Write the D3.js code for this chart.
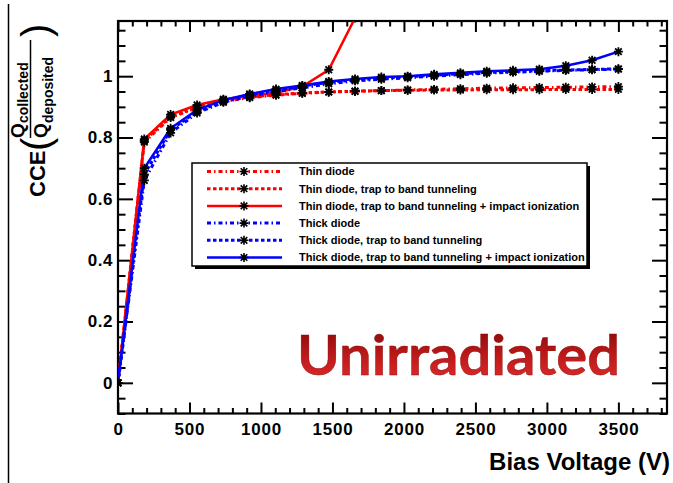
<!DOCTYPE html>
<html>
<head>
<meta charset="utf-8">
<script src="https://cdn.jsdelivr.net/npm/d3@7"></script>
<style>
  html, body { margin: 0; padding: 0; background: #fff; }
  svg { display: block; }
</style>
</head>
<body>
<svg id="chart" width="673" height="483"></svg>
<script>
// ---------------- data ----------------
const voltages = [0, 184, 368, 553, 737, 921, 1105, 1289, 1474, 1658, 1842, 2026, 2211, 2395, 2579, 2763, 2947, 3132, 3316, 3500];

const thinDiode      = [0, 0.785, 0.865, 0.897, 0.918, 0.930, 0.938, 0.944, 0.948, 0.951, 0.953, 0.955, 0.957, 0.959, 0.961, 0.962, 0.963, 0.964, 0.965, 0.966];
const thinTBT        = [0, 0.790, 0.868, 0.899, 0.920, 0.932, 0.940, 0.945, 0.949, 0.951, 0.953, 0.954, 0.955, 0.955, 0.956, 0.956, 0.956, 0.957, 0.957, 0.957];
const thinTBTII      = [0, 0.795, 0.875, 0.906, 0.925, 0.936, 0.946, 0.966, 1.021, 1.190];
const thickDiode     = [0, 0.660, 0.815, 0.880, 0.915, 0.935, 0.950, 0.962, 0.975, 0.985, 0.990, 0.995, 1.000, 1.005, 1.010, 1.013, 1.016, 1.019, 1.021, 1.023];
const thickTBT       = [0, 0.680, 0.825, 0.885, 0.918, 0.940, 0.955, 0.968, 0.980, 0.988, 0.993, 0.998, 1.003, 1.008, 1.012, 1.015, 1.018, 1.020, 1.022, 1.024];
const thickTBTII     = [0, 0.700, 0.830, 0.890, 0.922, 0.942, 0.958, 0.970, 0.983, 0.991, 0.997, 1.000, 1.006, 1.011, 1.016, 1.019, 1.023, 1.034, 1.052, 1.080];

const seriesNames = [
  "Thin diode",
  "Thin diode, trap to band tunneling",
  "Thin diode, trap to band tunneling + impact ionization",
  "Thick diode",
  "Thick diode, trap to band tunneling",
  "Thick diode, trap to band tunneling + impact ionization"
];
const seriesValues = [thinDiode, thinTBT, thinTBTII, thickDiode, thickTBT, thickTBTII];
const seriesColors = ["#ff0000", "#ff0000", "#ff0000", "#0000ff", "#0000ff", "#0000ff"];
const seriesDash   = ["4,3,1.5,3", "3.5,2.5", null, "4,3,1.5,3", "3.5,2.5", null];

const xMajorTicks = [0, 500, 1000, 1500, 2000, 2500, 3000, 3500];
const xTickLabels = ["0", "500", "1000", "1500", "2000", "2500", "3000", "3500"];
const yMajorTicks = [0, 0.2, 0.4, 0.6, 0.8, 1];
const yTickLabels = ["0", "0.2", "0.4", "0.6", "0.8", "1"];

const xTitle = "Bias Voltage (V)";
const annotation = "Unirradiated";

// ---------------- layout ----------------
const svg = d3.select("#chart");
const L = 118, R = 667, T = 21, B = 413.5;
const x = d3.scaleLinear().domain([0, 3840]).range([L, R]);
const y = d3.scaleLinear().domain([-0.1, 1.18]).range([B, T]);

const xMinor = d3.range(0, 3840, 100).filter(v => v % 500 !== 0);
const yMinor = d3.range(-0.1, 1.18, 0.05).map(v => +v.toFixed(2)).filter(v => Math.abs(v * 5 - Math.round(v * 5)) > 1e-6 || v < 0);

// left outer line
svg.append("line").attr("x1", 8.5).attr("x2", 8.5).attr("y1", 4).attr("y2", 483)
  .attr("stroke", "#000").attr("stroke-width", 1.5);

const defs = svg.append("defs");
defs.append("clipPath").attr("id", "plotclip").append("rect")
  .attr("x", L).attr("y", T).attr("width", R - L).attr("height", B - T);
const grad = defs.append("linearGradient").attr("id", "redgrad")
  .attr("x1", 0).attr("y1", 0).attr("x2", 0).attr("y2", 1);
grad.append("stop").attr("offset", "0%").attr("stop-color", "#7e0606");
grad.append("stop").attr("offset", "55%").attr("stop-color", "#c01a1a");
grad.append("stop").attr("offset", "100%").attr("stop-color", "#e23030");

// annotation
svg.append("text").attr("x", 297).attr("y", 375)
  .attr("font-family", "Lato, 'Open Sans', sans-serif").attr("font-weight", "bold")
  .attr("font-size", 55).attr("fill", "url(#redgrad)")
  .attr("stroke", "#8a0a0a").attr("stroke-width", 0.4)
  .attr("textLength", 323).attr("lengthAdjust", "spacingAndGlyphs")
  .text(annotation);

// ---------------- axes ----------------
const font = "'Liberation Sans', Arial, sans-serif";
function styleAxis(g) {
  g.select(".domain").remove();
  g.selectAll("line").attr("stroke", "#000").attr("stroke-width", 2);
  g.selectAll("text").attr("font-family", font).attr("font-weight", "bold").attr("fill", "#000");
}
// bottom
svg.append("g").attr("transform", `translate(0,${B})`)
  .call(d3.axisBottom(x).tickValues(xMajorTicks).tickSize(-11).tickPadding(9.5)
    .tickFormat((d, i) => xTickLabels[i]))
  .call(styleAxis).call(g => g.selectAll("text").attr("font-size", 17).attr("letter-spacing", 0.8));
svg.append("g").attr("transform", `translate(0,${B})`)
  .call(d3.axisBottom(x).tickValues(xMinor).tickSize(-5.5).tickFormat(""))
  .call(styleAxis);
// top
svg.append("g").attr("transform", `translate(0,${T})`)
  .call(d3.axisTop(x).tickValues(xMajorTicks).tickSize(-11).tickFormat(""))
  .call(styleAxis);
svg.append("g").attr("transform", `translate(0,${T})`)
  .call(d3.axisTop(x).tickValues(xMinor).tickSize(-5.5).tickFormat(""))
  .call(styleAxis);
// left
svg.append("g").attr("transform", `translate(${L},0)`)
  .call(d3.axisLeft(y).tickValues(yMajorTicks).tickSize(-15).tickPadding(5)
    .tickFormat((d, i) => yTickLabels[i]))
  .call(styleAxis).call(g => g.selectAll("text").attr("font-size", 17).attr("letter-spacing", 0.5));
svg.append("g").attr("transform", `translate(${L},0)`)
  .call(d3.axisLeft(y).tickValues(yMinor).tickSize(-7.5).tickFormat(""))
  .call(styleAxis);
// right
svg.append("g").attr("transform", `translate(${R},0)`)
  .call(d3.axisRight(y).tickValues(yMajorTicks).tickSize(-15).tickFormat(""))
  .call(styleAxis);
svg.append("g").attr("transform", `translate(${R},0)`)
  .call(d3.axisRight(y).tickValues(yMinor).tickSize(-7.5).tickFormat(""))
  .call(styleAxis);

// frame
svg.append("rect").attr("x", L).attr("y", T).attr("width", R - L).attr("height", B - T)
  .attr("fill", "none").attr("stroke", "#000").attr("stroke-width", 2.2);

// ---------------- series ----------------
const plot = svg.append("g").attr("clip-path", "url(#plotclip)");
const line = d3.line().x(d => x(d[0])).y(d => y(d[1]));
const star = "M-4.5,0H4.5M0,-4.5V4.5M-3.3,-3.3L3.3,3.3M-3.3,3.3L3.3,-3.3";

seriesValues.forEach((vals, i) => {
  const pts = vals.map((v, j) => [voltages[j], v]);
  plot.append("path").datum(pts).attr("d", line)
    .attr("fill", "none").attr("stroke", seriesColors[i])
    .attr("stroke-width", seriesDash[i] ? 3 : 2.5)
    .attr("stroke-dasharray", seriesDash[i]);
});
seriesValues.forEach((vals, i) => {
  const pts = vals.map((v, j) => [voltages[j], v]);
  plot.selectAll(null).data(pts).enter().append("path")
    .attr("transform", d => `translate(${x(d[0])},${y(d[1])})`)
    .attr("d", star).attr("stroke", "#000").attr("stroke-width", 1.8).attr("fill", "none");
});

// ---------------- legend ----------------
const lg = svg.append("g");
lg.append("rect").attr("x", 195).attr("y", 166).attr("width", 395).attr("height", 103).attr("fill", "#000");
lg.append("rect").attr("x", 192).attr("y", 163).attr("width", 395).attr("height", 103)
  .attr("fill", "#fff").attr("stroke", "#000").attr("stroke-width", 1.5);
seriesNames.forEach((name, i) => {
  const yy = 171.5 + i * 17.2;
  lg.append("line").attr("x1", 207).attr("x2", 282).attr("y1", yy).attr("y2", yy)
    .attr("stroke", seriesColors[i]).attr("stroke-width", seriesDash[i] ? 3 : 2.5)
    .attr("stroke-dasharray", seriesDash[i]);
  lg.append("path").attr("transform", `translate(244,${yy})`).attr("d", star)
    .attr("stroke", "#000").attr("stroke-width", 1.6);
  lg.append("text").attr("x", 299).attr("y", yy).attr("dy", "0.35em")
    .attr("font-family", font).attr("font-weight", "bold").attr("font-size", 11)
    .attr("fill", "#000").text(name);
});

// ---------------- titles ----------------
svg.append("text").attr("x", 670).attr("y", 470).attr("text-anchor", "end")
  .attr("font-family", font).attr("font-weight", "bold").attr("font-size", 24)
  .attr("fill", "#000").text(xTitle);

const yt = svg.append("g").attr("transform", "rotate(-90)")
  .attr("font-family", font).attr("font-weight", "bold").attr("fill", "#000");
yt.append("text").attr("x", -197).attr("y", 45).attr("font-size", 22).text("CCE");
yt.append("text").attr("x", -151).attr("y", 50).attr("font-size", 40).attr("font-weight", "normal").text("(");
yt.append("text").attr("x", -138).attr("y", 24).attr("font-size", 19).text("Q");
yt.append("text").attr("x", -123).attr("y", 28).attr("font-size", 14).text("collected");
yt.append("line").attr("x1", -138).attr("x2", -40).attr("y1", 30.5).attr("y2", 30.5)
  .attr("stroke", "#000").attr("stroke-width", 1.5);
yt.append("text").attr("x", -138).attr("y", 47).attr("font-size", 19).text("Q");
yt.append("text").attr("x", -123).attr("y", 53).attr("font-size", 14).text("deposited");
yt.append("text").attr("x", -37).attr("y", 50).attr("font-size", 40).attr("font-weight", "normal").text(")");
</script>
</body>
</html>
